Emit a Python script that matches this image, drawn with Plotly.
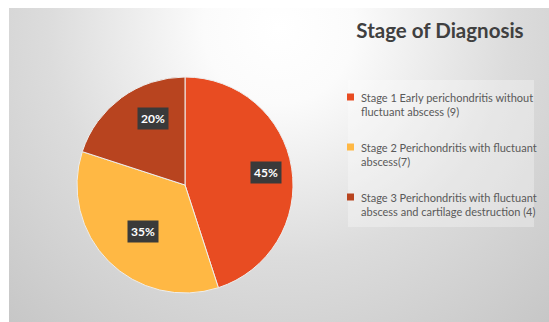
import math
import base64
import plotly.graph_objects as go

# ---- data ----
stage_labels = [
    "Stage 1 Early perichondritis without<br>fluctuant abscess (9)",
    "Stage 2 Perichondritis with fluctuant<br>abscess(7)",
    "Stage 3 Perichondritis with fluctuant<br>abscess and cartilage destruction (4)",
]
stage_counts = [9, 7, 4]
stage_colors = ["#E84C22", "#FFB844", "#B8441F"]
chart_title = "Stage of Diagnosis"

W, H = 549, 322

# radial gradient background as an SVG image
svg = f'''<svg xmlns="http://www.w3.org/2000/svg" width="540" height="314" viewBox="0 0 540 314">
<defs><radialGradient id="g" cx="270" cy="20" r="420" gradientUnits="userSpaceOnUse">
<stop offset="0" stop-color="#ffffff"/><stop offset="0.18" stop-color="#fbfbfb"/>
<stop offset="0.55" stop-color="#dcdcdc"/><stop offset="1" stop-color="#c4c4c4"/></radialGradient></defs>
<rect width="540" height="314" fill="url(#g)"/></svg>'''
svg_uri = "data:image/svg+xml;base64," + base64.b64encode(svg.encode()).decode()

# pie geometry (pixels)
cx, cy, R = 185, 185, 108
dom_x = [(cx - R) / W, (cx + R) / W]
dom_y = [(H - cy - R) / H, (H - cy + R) / H]

fig = go.Figure()
fig.add_trace(go.Pie(
    labels=stage_labels,
    values=stage_counts,
    marker=dict(colors=stage_colors, line=dict(color="#eeeeee", width=1)),
    sort=False,
    direction="clockwise",
    rotation=0,
    textinfo="none",
    hoverinfo="label+percent",
    domain=dict(x=dom_x, y=dom_y),
    showlegend=False,
))

# percentage labels with dark boxes, placed from the data
total = sum(stage_counts)
cum = 0
annotations = []
for v in stage_counts:
    mid = (cum + v / 2) / total * 2 * math.pi
    cum += v
    px = cx + 0.76 * R * math.sin(mid)
    py = cy - 0.76 * R * math.cos(mid)
    annotations.append(dict(
        x=px / W, y=1 - py / H, xref="paper", yref="paper",
        text=f"<b>{round(100 * v / total)}%</b>", showarrow=False,
        font=dict(family="Lato", size=12, color="white"),
        bgcolor="#3a3a3a", borderpad=3,
    ))

# manual legend (box, colour squares, wrapped labels)
shapes = [dict(type="rect", xref="paper", yref="paper",
               x0=348 / W, x1=534 / W, y0=1 - 227 / H, y1=1 - 80 / H,
               line=dict(width=0), fillcolor="rgba(255,255,255,0.3)", layer="below")]
leg_top, leg_step = 97, 50
for i, (lab, col) in enumerate(zip(stage_labels, stage_colors)):
    yc = leg_top + i * leg_step
    shapes.append(dict(type="rect", xref="paper", yref="paper",
                       x0=347 / W, x1=354 / W, y0=1 - (yc + 3.5) / H, y1=1 - (yc - 3.5) / H,
                       line=dict(width=0), fillcolor=col))
    annotations.append(dict(
        x=359 / W, y=1 - (yc + 7.5) / H, xref="paper", yref="paper",
        xanchor="left", yanchor="middle", align="left", showarrow=False,
        text=lab, font=dict(family="Lato", size=11, color="#595959"),
    ))

fig.update_layout(
    width=W, height=H,
    margin=dict(l=0, r=0, t=0, b=0),
    paper_bgcolor="white",
    plot_bgcolor="white",
    images=[dict(source=svg_uri, xref="paper", yref="paper",
                 x=9 / W, y=1 - 8 / H, sizex=1 - 9 / W, sizey=1 - 8 / H,
                 xanchor="left", yanchor="top", sizing="stretch", layer="below")],
    title=dict(text="<b>" + chart_title + "</b>", x=440 / W, xanchor="center",
               y=1 - 31 / H, yanchor="middle",
               font=dict(family="Lato", size=20.5, color="#404040")),
    showlegend=False,
    annotations=annotations,
    shapes=shapes,
)

fig.write_html("out.html")
